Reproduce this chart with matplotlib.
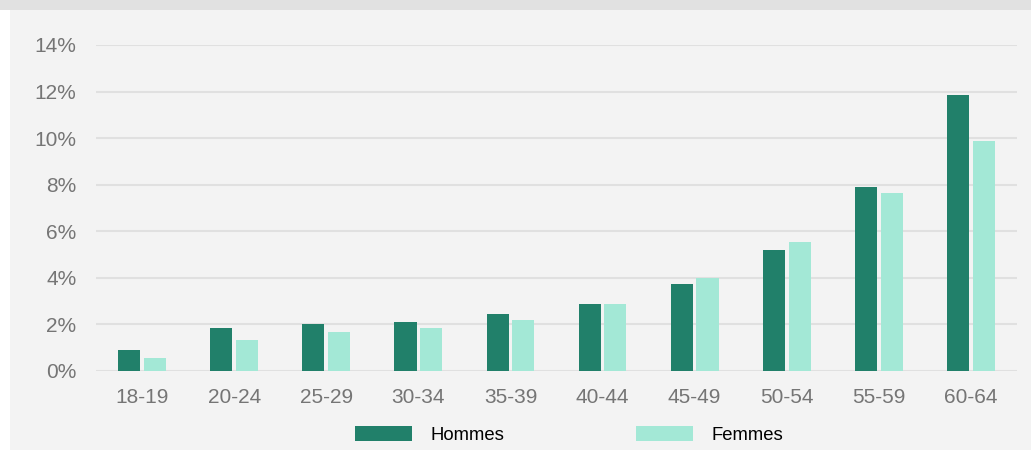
import matplotlib
matplotlib.use("Agg")
import matplotlib.pyplot as plt
import numpy as np
from matplotlib.patches import Rectangle

categories = ["18-19", "20-24", "25-29", "30-34", "35-39", "40-44", "45-49", "50-54", "55-59", "60-64"]
hommes = [0.90, 1.85, 2.02, 2.10, 2.45, 2.88, 3.72, 5.20, 7.92, 11.85]
femmes = [0.57, 1.33, 1.68, 1.85, 2.20, 2.88, 3.98, 5.52, 7.66, 9.87]
yticks = [0, 2, 4, 6, 8, 10, 12, 14]

plt.rcParams['font.family'] = ['Liberation Sans', 'DejaVu Sans']

W, H = 1031, 450
fig = plt.figure(figsize=(W / 100, H / 100), dpi=100, facecolor="white")
fig.patches.append(Rectangle((10 / W, -0.02), 1.02 - 10 / W, 440 / H + 0.02, transform=fig.transFigure,
                             facecolor="#f3f3f3", edgecolor="none", zorder=-10))
fig.patches.append(Rectangle((-0.01, 440 / H), 1.02, 0.03, transform=fig.transFigure,
                             facecolor="#e1e1e1", edgecolor="none", zorder=-10))

ax = fig.add_axes([96 / W, 79 / H, (1017 - 96) / W, (371 - 45) / H])
ax.set_facecolor("none")

x = np.arange(len(categories))
bw = 0.24
gap = 0.02
ax.bar(x - bw / 2 - gap, hommes, width=bw, color="#21806a", label="Hommes", zorder=3)
ax.bar(x + bw / 2 + gap, femmes, width=bw, color="#a3e8d6", label="Femmes", zorder=3)

ax.set_xlim(-0.5, len(categories) - 0.5)
ax.set_ylim(0, 14)
ax.set_yticks(yticks)
ax.set_yticklabels([f"{v}%" for v in yticks])
ax.set_xticks(x)
ax.set_xticklabels(categories)
ax.tick_params(axis="both", length=0, labelsize=15, labelcolor="#757575")
ax.tick_params(axis="y", pad=14)
ax.tick_params(axis="x", pad=12)
ax.grid(axis="y", color="#e0e0e0", linewidth=1.5, zorder=0)
for s in ax.spines.values():
    s.set_visible(False)

leg = fig.legend(loc="center", bbox_to_anchor=(569 / W, 1 - 435 / H), ncol=2, frameon=False,
                 fontsize=13.3, handlelength=3.1, handleheight=0.9, handletextpad=1.0,
                 columnspacing=7.1)

fig.savefig("out.png", dpi=100, facecolor=fig.get_facecolor())
